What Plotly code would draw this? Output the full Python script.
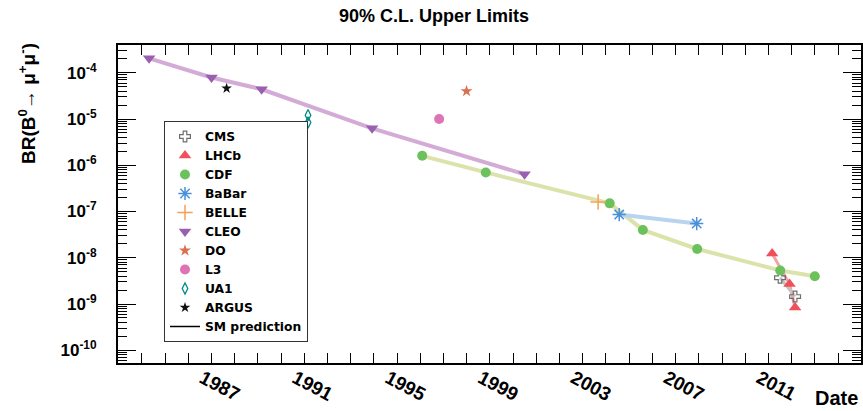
import plotly.graph_objects as go

# ---------------- data ----------------
cms_year = [2011.50, 2012.15]
cms_br = [3.7e-9, 1.45e-9]

lhcb_year = [2011.16, 2011.91, 2012.15]
lhcb_br = [1.23e-8, 2.7e-9, 8.4e-10]

cdf_year = [1996.08, 1998.82, 2004.16, 2005.59, 2007.93, 2011.51, 2013.0]
cdf_br = [1.6e-6, 7.0e-7, 1.5e-7, 4.0e-8, 1.55e-8, 5.3e-9, 4.0e-9]

babar_year = [2004.57, 2007.91]
babar_br = [8.6e-8, 5.5e-8]

belle_year = [2003.66]
belle_br = [1.6e-7]

cleo_year = [1984.31, 1987.0, 1989.16, 1993.92, 2000.49]
cleo_br = [2.05e-4, 7.9e-5, 4.4e-5, 6.3e-6, 6.4e-7]

d0_year = [1997.99]
d0_br = [4.0e-5]

l3_year = [1996.81]
l3_br = [1.0e-5]

ua1_year = [1991.16, 1991.16]
ua1_br = [1.21e-5, 8.4e-6]

argus_year = [1987.65]
argus_br = [4.6e-5]

year_ticks = [1987, 1991, 1995, 1999, 2003, 2007, 2011]
year_labels = ["1987", "1991", "1995", "1999", "2003", "2007", "2011"]

br_ticks = [1e-10, 1e-9, 1e-8, 1e-7, 1e-6, 1e-5, 1e-4]
br_labels = ["10<sup>-10</sup>", "10<sup>-9</sup>", "10<sup>-8</sup>", "10<sup>-7</sup>",
             "10<sup>-6</sup>", "10<sup>-5</sup>", "10<sup>-4</sup>"]

x_range = [1982.97, 2014.99]
y_range_log = [-10.275, -3.40]

# ---------------- figure ----------------
FONT = "Liberation Sans, Arial, Helvetica, sans-serif"
LEGEND_FONT = "DejaVu Sans, Liberation Sans, sans-serif"
fig = go.Figure()

# connecting lines (drawn first, no legend)
line_sets = [
    (cleo_year, cleo_br, "#d3abd6", 4),
    (cdf_year, cdf_br, "#dbe3ab", 4),
    (babar_year, babar_br, "#b8d4ef", 4),
    (lhcb_year, lhcb_br, "#f3a3a7", 3),
    (cms_year, cms_br, "#c4c4c4", 3),
]
for xs, ys, col, w in line_sets:
    fig.add_trace(go.Scatter(x=xs, y=ys, mode="lines", line=dict(color=col, width=w),
                             showlegend=False, hoverinfo="skip"))

# markers in legend order
marker_sets = [
    ("CMS", cms_year, cms_br, dict(symbol="cross-open", size=9, color="#6e6e6e",
                                     line=dict(color="#6e6e6e", width=1.2))),
    ("LHCb", lhcb_year, lhcb_br, dict(symbol="triangle-up", size=11, color="#f0505a",
                                      line=dict(width=0))),
    ("CDF", cdf_year, cdf_br, dict(symbol="circle", size=10, color="#6cc15c", line=dict(width=0))),
    ("BaBar", babar_year, babar_br, dict(symbol="asterisk-open", size=11, color="#4a90d9",
                                         line=dict(color="#4a90d9", width=1.5))),
    ("BELLE", belle_year, belle_br, dict(symbol="cross-thin-open", size=11, color="#f7a055",
                                         line=dict(color="#f7a055", width=1.5))),
    ("CLEO", cleo_year, cleo_br, dict(symbol="triangle-down", size=11, color="#9b5fb0",
                                      line=dict(width=0))),
    ("DO", d0_year, d0_br, dict(symbol="star", size=9, color="#d9704f", line=dict(width=0))),
    ("L3", l3_year, l3_br, dict(symbol="circle", size=10, color="#de74b6", line=dict(width=0))),
    ("UA1", ua1_year, ua1_br, dict(symbol="diamond-tall-open", size=8, color="#008b8b",
                                   line=dict(color="#008b8b", width=1.3))),
    ("ARGUS", argus_year, argus_br, dict(symbol="star", size=8, color="#111111", line=dict(width=0))),
]
for name, xs, ys, mk in marker_sets:
    fig.add_trace(go.Scatter(x=xs, y=ys, mode="markers", name=name, marker=mk))

# SM prediction: legend entry only
fig.add_trace(go.Scatter(x=[None], y=[None], mode="lines", name="SM prediction",
                         line=dict(color="black", width=1.5)))

fig.update_layout(
    width=863, height=411,
    margin=dict(l=118, r=2, t=45, b=48, autoexpand=False),
    paper_bgcolor="white", plot_bgcolor="white",
    font=dict(family=FONT, color="black"),
    title=dict(text="<b>90% C.L. Upper Limits</b>", x=0.503, xref="container", xanchor="center",
               y=1 - 16 / 411, yref="container", yanchor="middle",
               font=dict(size=18, family=FONT, color="black")),
    showlegend=True,
    legend=dict(x=(164 - 118) / 743, xanchor="left", y=(363 - 121) / 318, yanchor="top",
                bgcolor="white", bordercolor="#333333", borderwidth=1,
                font=dict(size=12.3, family=LEGEND_FONT, color="black", weight="bold"),
                itemwidth=30, tracegroupgap=0),
)

fig.update_xaxes(
    range=x_range, showgrid=False, zeroline=False, automargin=False,
    showline=True, linecolor="black", linewidth=2, mirror="ticks",
    tickmode="array", tickvals=year_ticks, ticktext=year_labels,
    ticks="inside", ticklen=10, tickwidth=1.2, tickcolor="black",
    tickangle=28, ticklabelshift=-9, ticklabelstandoff=-5,
    tickfont=dict(size=19, family=FONT, color="black", weight="bold"),
    minor=dict(tickmode="linear", tick0=1984, dtick=1, ticks="inside", ticklen=10,
               tickwidth=1.2, tickcolor="black", showgrid=False),
)
fig.update_yaxes(
    type="log", range=y_range_log, showgrid=False, zeroline=False, automargin=False,
    showline=True, linecolor="black", linewidth=2, mirror="ticks",
    tickmode="array", tickvals=br_ticks, ticktext=br_labels,
    ticks="inside", ticklen=18, tickwidth=1.2, tickcolor="black", ticklabelstandoff=16,
    tickfont=dict(size=17, family=FONT, color="black", weight="bold"),
    minor=dict(dtick="D1", ticks="inside", ticklen=9, tickwidth=1.2, tickcolor="black",
               showgrid=False),
)

# axis titles placed as in the reference (ROOT-style, aligned to the axis end)
fig.add_annotation(text="<b>BR(B<sup>0</sup>→ μ<sup>+</sup>μ<sup>-</sup>)</b>",
                   xref="paper", yref="paper", x=(27 - 118) / 743, y=(363 - 104) / 318,
                   xanchor="center", yanchor="middle", textangle=-90, showarrow=False,
                   font=dict(size=19, family=FONT, color="black"))
fig.add_annotation(text="<b>Date</b>", xref="paper", yref="paper",
                   x=(860 - 118) / 743, y=(363 - 398) / 318, xanchor="right", yanchor="middle",
                   showarrow=False, font=dict(size=20, family=FONT, color="black"))

fig.write_html("out.html", config={"displayModeBar": False},
               post_script="document.body.style.margin='0';document.body.style.overflow='hidden';")
